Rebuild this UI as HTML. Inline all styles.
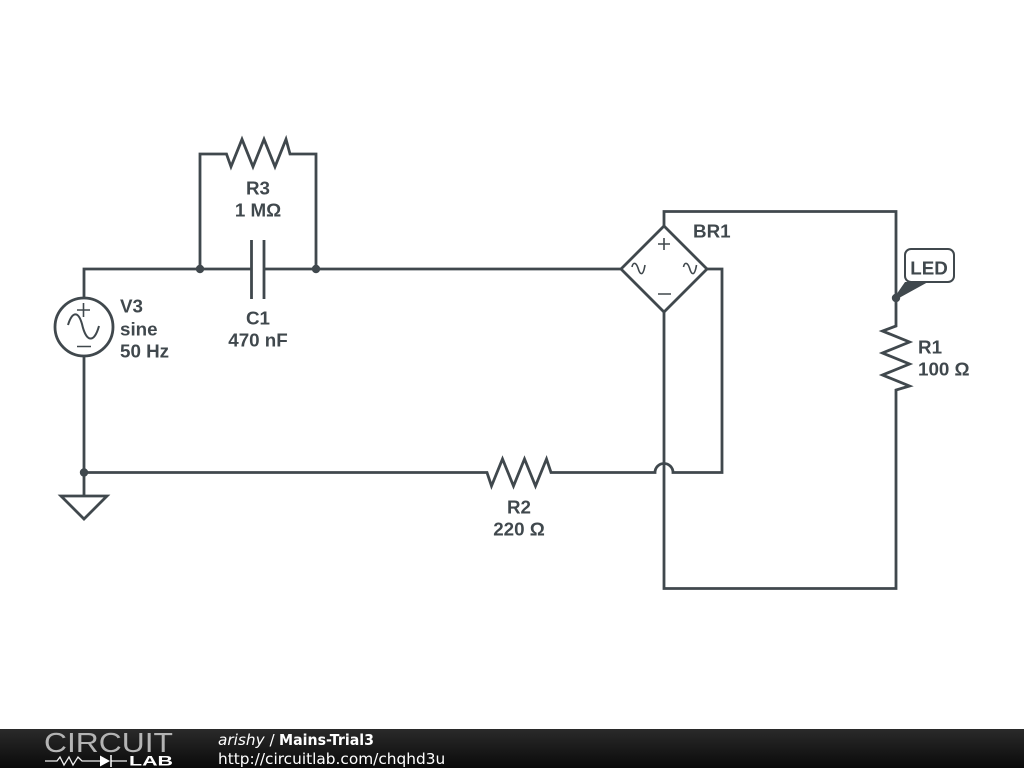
<!DOCTYPE html>
<html>
<head>
<meta charset="utf-8">
<style>
html,body{margin:0;padding:0;background:#fff}
svg{display:block}
text{font-family:"Liberation Sans",sans-serif;font-weight:bold;font-size:18.8px;fill:#40484d}
.w{fill:none;stroke:#40484d;stroke-width:2.8;stroke-linejoin:miter}
.t{fill:none;stroke:#40484d;stroke-width:1.6}
</style>
</head>
<body>
<svg width="1024" height="768" viewBox="0 0 1024 768" xmlns="http://www.w3.org/2000/svg">
<rect width="1024" height="768" fill="#fff"/>
<!-- wires -->
<path class="w" d="M84 298V269H251M264 269H621"/>
<path class="w" d="M200 269V154H226.500L231 166.700L242 139.300L253 166.700L264 139.300L275 166.700L286 139.300L290 154H316V269"/>
<path class="w" d="M251.500 240V299M264 240V299"/>
<path class="w" d="M664 226V211.500H896V326L882.500 331L909.500 342L882.500 353L909.500 364L882.500 375L909.500 386L896 390V588.500H664V312"/>
<path class="w" d="M707 269H722V472.500H673A9 9 0 0 0 655 472.500H551L546.500 459L535.500 486L524.500 459L513.500 486L502.500 459L491.500 486L487 472.500H84"/>
<path class="w" d="M84 356V496M61 496H107L84 519Z"/>
<!-- bridge -->
<path class="w" d="M664 226L707 269L664 312L621 269Z"/>
<path class="t" d="M658 244H670M664 238V250M658 294H671"/>
<path class="t" d="M632 267C633 262 636 262 638 268C640 275 643 277 645 265"/>
<path class="t" d="M683.500 267C684.500 262 687.500 262 689.500 268C691.500 275 694.500 277 696.500 265"/>
<!-- source -->
<circle class="w" cx="84" cy="327" r="29"/>
<path class="t" d="M77 310H90M83.500 303V317M77 346.500H91"/>
<path class="w" style="stroke-width:2" d="M68 325C72 312 78 310 82 324C86 342 94 344 99 326"/>
<!-- junctions -->
<circle cx="200" cy="269" r="4.200" fill="#40484d"/>
<circle cx="316" cy="269" r="4.200" fill="#40484d"/>
<circle cx="84" cy="472.500" r="4.200" fill="#40484d"/>
<circle cx="896" cy="298" r="4.200" fill="#40484d"/>
<!-- LED flag -->
<path d="M896 295L905 282H928L899 298Z" fill="#40484d"/>
<rect x="905" y="249" width="49" height="33" rx="6" ry="6" fill="#fff" stroke="#40484d" stroke-width="2"/>
<!-- labels -->
<text x="929" y="274.700" text-anchor="middle">LED</text>
<text x="258" y="194.700" text-anchor="middle">R3</text>
<text x="258" y="216.700" text-anchor="middle">1 MΩ</text>
<text x="258" y="324.700" text-anchor="middle">C1</text>
<text x="258" y="346.700" text-anchor="middle">470 nF</text>
<text x="120" y="312.700">V3</text>
<text x="120" y="335.700">sine</text>
<text x="120" y="357.700">50 Hz</text>
<text x="693" y="237.700">BR1</text>
<text x="918" y="353.700">R1</text>
<text x="918" y="375.700">100 Ω</text>
<text x="519" y="513.700" text-anchor="middle">R2</text>
<text x="519" y="535.700" text-anchor="middle">220 Ω</text>
<!-- footer -->
<defs><linearGradient id="g" x1="0" y1="0" x2="0" y2="1"><stop offset="0" stop-color="#2a2a2a"/><stop offset="1" stop-color="#0a0a0a"/></linearGradient></defs>
<rect x="0" y="729" width="1024" height="39" fill="url(#g)"/>
<text x="44" y="752" style="font-weight:normal;font-size:27.5px;fill:#b4b4b4" textLength="129" lengthAdjust="spacingAndGlyphs">CIRCUIT</text>
<path d="M45 761H57L60 757L64 765L69 757L73 765L78 757L82 761H100M111 761H127" fill="none" stroke="#eee" stroke-width="1.300"/>
<path d="M100 755.500L110 761L100 766.500Z" fill="#fff"/>
<path d="M111 755V767" stroke="#fff" stroke-width="1.500"/>
<text x="129" y="765.500" style="font-size:14px;fill:#fff;font-weight:bold" textLength="44" lengthAdjust="spacingAndGlyphs">LAB</text>
<text x="218" y="745" style="font-family:'DejaVu Sans',sans-serif;font-weight:normal;font-style:italic;font-size:15.3px;fill:#fff">arishy <tspan style="font-style:normal">/</tspan></text>
<text x="279" y="745" textLength="95" lengthAdjust="spacingAndGlyphs" style="font-family:'DejaVu Sans',sans-serif;font-weight:bold;font-size:15px;fill:#fff">Mains-Trial3</text>
<text x="218" y="764" style="font-family:'DejaVu Sans',sans-serif;font-weight:normal;font-size:15.35px;fill:#fff">http://circuitlab.com/chqhd3u</text>
</svg>
</body>
</html>
